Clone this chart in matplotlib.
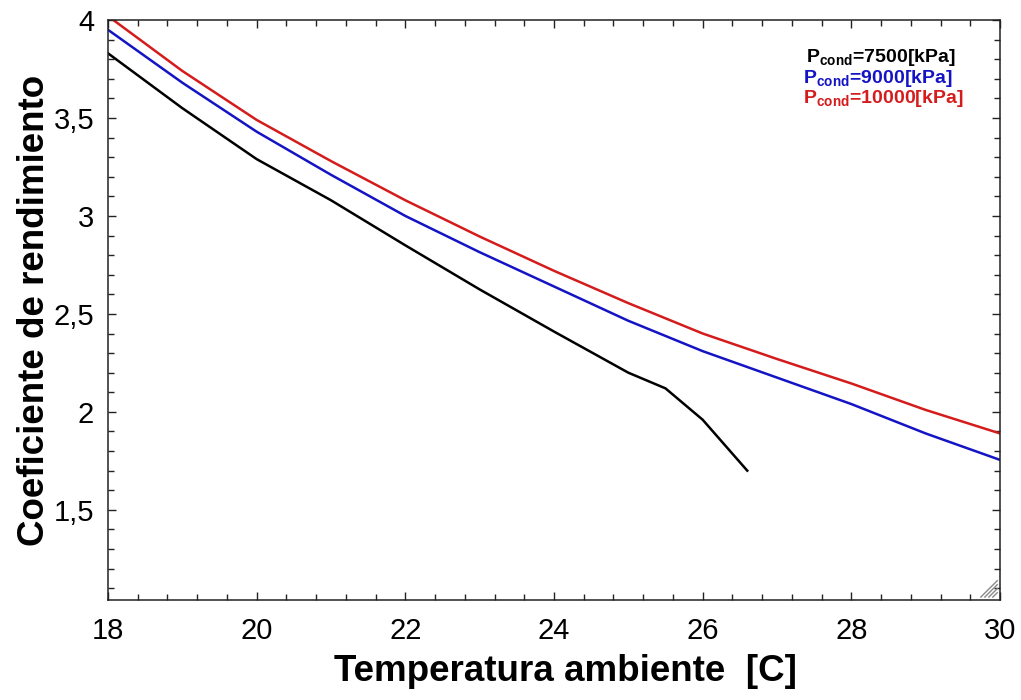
import matplotlib
matplotlib.use("Agg")
import matplotlib.pyplot as plt
from matplotlib.ticker import MultipleLocator, FuncFormatter

plt.rcParams['font.family'] = ['Liberation Sans', 'DejaVu Sans']
plt.rcParams['mathtext.fontset'] = 'custom'
plt.rcParams['mathtext.rm'] = 'Liberation Sans:bold'
plt.rcParams['mathtext.bf'] = 'Liberation Sans:bold'
plt.rcParams['mathtext.it'] = 'Liberation Sans:bold'

# Ambient temperature [C] and coefficient of performance for each condenser pressure
temp_7500 = [18, 19, 20, 21, 22, 23, 24, 25, 25.5, 26, 26.6]
cop_7500 = [3.83, 3.55, 3.29, 3.08, 2.85, 2.625, 2.41, 2.20, 2.12, 1.96, 1.70]

temp_9000 = [18, 19, 20, 21, 22, 23, 24, 25, 26, 27, 28, 29, 30]
cop_9000 = [3.95, 3.68, 3.43, 3.21, 3.00, 2.815, 2.64, 2.465, 2.31, 2.175, 2.04, 1.89, 1.755]

temp_10000 = [18, 19, 20, 21, 22, 23, 24, 25, 26, 27, 28, 29, 30]
cop_10000 = [4.02, 3.74, 3.49, 3.28, 3.08, 2.895, 2.72, 2.555, 2.40, 2.27, 2.145, 2.01, 1.89]

series_labels = ['=7500[kPa]', '=9000[kPa]', '=10000[kPa]']
series_colors = ['#000000', '#1414c4', '#d41c1c']

x_ticks = [18, 20, 22, 24, 26, 28, 30]
y_ticks = [1.5, 2, 2.5, 3, 3.5, 4]

fig = plt.figure(figsize=(10.21, 7.0), dpi=100)
ax = fig.add_axes([0.1058, 0.1429, 0.8736, 0.8285])

for t, c, col in zip([temp_7500, temp_9000, temp_10000],
                     [cop_7500, cop_9000, cop_10000], series_colors):
    ax.plot(t, c, color=col, lw=1.8, solid_joinstyle='round', clip_on=True)

ax.set_xlim(18, 30)
ax.set_ylim(1.04, 4)
ax.set_xticks(x_ticks)
ax.set_yticks(y_ticks)
ax.xaxis.set_minor_locator(MultipleLocator(0.4))
ax.yaxis.set_minor_locator(MultipleLocator(0.1))

def comma_fmt(v, pos):
    return ('%g' % v).replace('.', ',')

ax.xaxis.set_major_formatter(FuncFormatter(comma_fmt))
ax.yaxis.set_major_formatter(FuncFormatter(comma_fmt))

ax.tick_params(which='both', direction='in', top=True, right=True,
               color='#222222', width=1.0)
ax.tick_params(which='major', length=6, labelsize=21)
ax.tick_params(axis='x', which='major', pad=12)
ax.tick_params(axis='y', which='major', pad=10)
ax.tick_params(which='minor', length=4)
for s in ax.spines.values():
    s.set_linewidth(1.1)
    s.set_color('#222222')

ax.set_xlabel('Temperatura ambiente  [C]', fontsize=26.5, fontweight='bold', labelpad=7)
ax.xaxis.label.set_x(0.513)
ax.set_ylabel('Coeficiente de rendimiento', fontsize=26.5, fontweight='bold', labelpad=1)

# condenser pressure key in the upper right corner
key_x = [0.782, 0.779, 0.779]
for i, (lab, col) in enumerate(zip(series_labels, series_colors)):
    ax.text(key_x[i], 0.935 - i * 0.035,
            r'$\mathrm{P}_{\mathrm{cond}}$' + lab, transform=ax.transAxes,
            color=col, fontsize=14, fontweight='bold', ha='left', va='center')

# small hatched grip in the lower right corner
for k in range(4):
    d = 0.005 + k * 0.0045
    ax.plot([1 - d - 0.003, 1 - 0.003], [0.005, 0.005 + d * 1.53], transform=ax.transAxes,
            color='#8a8a8a', lw=1.0, clip_on=False)

fig.savefig('out.png', dpi=100, facecolor='white')
